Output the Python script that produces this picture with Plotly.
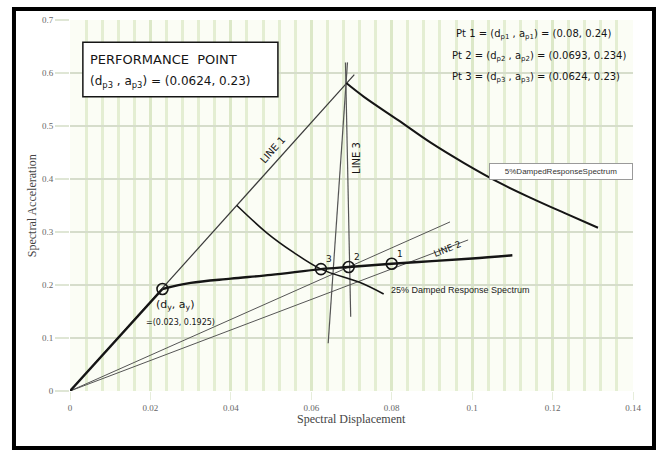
import plotly.graph_objects as go

# Capacity spectrum (pushover curve in ADRS format)
cap_disp = [0, 0.023, 0.03, 0.04, 0.05, 0.0624, 0.0693, 0.08, 0.09, 0.1, 0.11]
cap_acc = [0, 0.1925, 0.204, 0.212, 0.219, 0.23, 0.234, 0.24, 0.245, 0.25, 0.256]

# 5% damped response spectrum (descending branch)
sp5_disp = [0.0687, 0.0731, 0.0816, 0.0898, 0.098, 0.1065, 0.1147, 0.1229, 0.1313]
sp5_acc = [0.581, 0.555, 0.511, 0.468, 0.430, 0.394, 0.364, 0.336, 0.308]

# 25% damped response spectrum
sp25_disp = [0.0415, 0.049, 0.0555, 0.0624, 0.072, 0.078]
sp25_acc = [0.35, 0.298, 0.262, 0.23, 0.205, 0.183]

# Construction lines
line1_disp = [0, 0.0707]
line1_acc = [0, 0.597]
line2_disp = [0, 0.099]
line2_acc = [0, 0.285]
slope_pt2_disp = [0, 0.0945]
slope_pt2_acc = [0, 0.319]
line3a_disp = [0.0690, 0.0642]
line3a_acc = [0.62, 0.09]
line3b_disp = [0.0685, 0.0698]
line3b_acc = [0.62, 0.14]

# Trial / performance points and yield point
pt_names = ["1", "2", "3"]
pt_disp = [0.08, 0.0693, 0.0624]
pt_acc = [0.24, 0.234, 0.23]
yield_disp = [0.023]
yield_acc = [0.1925]

x_ticks = [0, 0.02, 0.04, 0.06, 0.08, 0.1, 0.12, 0.14]
x_tick_text = ["0", "0.02", "0.04", "0.06", "0.08", "0.1", "0.12", "0.14"]
y_ticks = [0, 0.1, 0.2, 0.3, 0.4, 0.5, 0.6, 0.7]
y_tick_text = ["0", "0.1", "0.2", "0.3", "0.4", "0.5", "0.6", "0.7"]

HAND = "DejaVu Sans"
INK = "#151515"

fig = go.Figure()

def add_line(x, y, color, width, shape="linear"):
    fig.add_trace(go.Scatter(x=x, y=y, mode="lines", line=dict(color=color, width=width, shape=shape),
                             hoverinfo="skip", showlegend=False))

add_line(line1_disp, line1_acc, "#3a3a3a", 1.2)
add_line(slope_pt2_disp, slope_pt2_acc, "#555555", 1.0)
add_line(line2_disp, line2_acc, "#555555", 1.0)
add_line(line3a_disp, line3a_acc, "#555555", 1.2)
add_line(line3b_disp, line3b_acc, "#555555", 1.2)
add_line(sp5_disp, sp5_acc, INK, 2.0, "spline")
add_line(sp25_disp, sp25_acc, INK, 1.6, "spline")
# elastic branch straight, post-yield branch smoothed
add_line(cap_disp[:2], cap_acc[:2], INK, 2.4)
add_line(cap_disp[1:], cap_acc[1:], INK, 2.4, "spline")

fig.add_trace(go.Scatter(x=pt_disp + yield_disp, y=pt_acc + yield_acc, mode="markers",
                         marker=dict(symbol="circle-open", size=11, color=INK, line=dict(width=1.6)),
                         hoverinfo="skip", showlegend=False))

ann = []
# point numbers
for name, xd, ya in zip(pt_names, pt_disp, pt_acc):
    ann.append(dict(x=xd, y=ya, text=name, xshift=8, yshift=10, showarrow=False,
                    font=dict(family=HAND, size=9, color=INK)))

ann += [
    dict(x=0.0505, y=0.455, text="LINE 1", textangle=-48, showarrow=False,
         font=dict(family=HAND, size=10, color=INK)),
    dict(x=0.0938, y=0.268, text="LINE 2", textangle=-22, showarrow=False,
         font=dict(family=HAND, size=9, color=INK)),
    dict(x=0.0714, y=0.44, text="LINE 3", textangle=-90, showarrow=False,
         font=dict(family=HAND, size=10, color=INK)),
    dict(x=0.0261, y=0.162, text="(d<sub>y</sub>, a<sub>y</sub>)", showarrow=False,
         font=dict(family=HAND, size=11, color=INK)),
    dict(x=0.0274, y=0.13, text="=(0.023, 0.1925)", showarrow=False,
         font=dict(family=HAND, size=8, color=INK)),
    dict(x=0.1221, y=0.415, text="5%DampedResponseSpectrum", showarrow=False,
         font=dict(family="Liberation Sans", size=8, color="#333"),
         bgcolor="white", bordercolor="#9a9a9a", borderwidth=1, width=140, height=13),
    dict(x=0.0793, y=0.19, text="25% Damped Response Spectrum", showarrow=False, xanchor="left",
         font=dict(family="Liberation Sans", size=9, color="#222")),
    # performance point box text
    dict(x=0.0045, y=0.626, text="PERFORMANCE  POINT", showarrow=False, xanchor="left",
         font=dict(family=HAND, size=13, color=INK)),
    dict(x=0.0045, y=0.583, text="(d<sub>p3</sub> , a<sub>p3</sub>) = (0.0624, 0.23)", showarrow=False,
         xanchor="left", font=dict(family=HAND, size=12, color=INK)),
    # trial points list
    dict(x=0.0955, y=0.672, text="Pt 1 = (d<sub>p1</sub> , a<sub>p1</sub>) = (0.08, 0.24)", showarrow=False,
         xanchor="left", font=dict(family=HAND, size=10, color=INK)),
    dict(x=0.0945, y=0.632, text="Pt 2 = (d<sub>p2</sub> , a<sub>p2</sub>) = (0.0693, 0.234)", showarrow=False,
         xanchor="left", font=dict(family=HAND, size=10, color=INK)),
    dict(x=0.0945, y=0.592, text="Pt 3 = (d<sub>p3</sub> , a<sub>p3</sub>) = (0.0624, 0.23)", showarrow=False,
         xanchor="left", font=dict(family=HAND, size=10, color=INK)),
    # axis titles
    dict(x=0.5, y=-0.10, xref="paper", yref="paper", text="Spectral Displacement", showarrow=False,
         xanchor="center", font=dict(family="Liberation Serif", size=12, color="#444")),
    dict(x=-0.068, y=0.5, xref="paper", yref="paper", text="Spectral Acceleration", textangle=-90,
         xanchor="center", yanchor="middle",
         showarrow=False, font=dict(family="Liberation Serif", size=12, color="#444")),
]

shapes = [
    dict(type="rect", xref="x", yref="y", x0=0.0032, x1=0.0517, y0=0.555, y1=0.658,
         line=dict(color=INK, width=1.5), fillcolor="white", layer="above"),
    dict(type="rect", xref="paper", yref="paper", x0=-0.0995, x1=1.0373, y0=-0.1536, y1=1.0296,
         line=dict(color="black", width=4)),
]

fig.update_layout(
    width=662, height=451,
    margin=dict(l=70, r=29, t=20, b=60),
    paper_bgcolor="white", plot_bgcolor="#fbfdf5",
    annotations=ann, shapes=shapes,
    xaxis=dict(range=[0, 0.14], tickvals=x_ticks, ticktext=x_tick_text, showgrid=True,
               gridcolor="#dce8c8", gridwidth=3, zeroline=False, showline=False,
               ticks="outside", ticklen=8, tickcolor="#e6eddb",
               minor=dict(dtick=0.004, tick0=0, showgrid=True, gridcolor="#e4eed3", gridwidth=3),
               tickfont=dict(family="Liberation Serif", size=9, color="#666")),
    yaxis=dict(range=[0, 0.7], tickvals=y_ticks, ticktext=y_tick_text, showgrid=True,
               gridcolor="#d6ddcb", gridwidth=2, zeroline=False, showline=False,
               ticks="outside", ticklen=14, tickcolor="#dfe6d5", tickwidth=2,
               tickfont=dict(family="Liberation Serif", size=9, color="#666")),
)

fig.write_html("out.html")
